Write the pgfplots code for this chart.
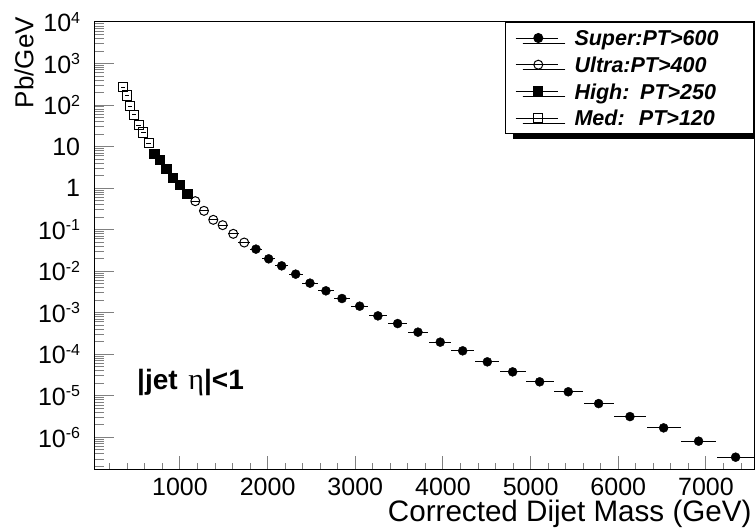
\documentclass[border=0pt]{standalone}
\usepackage{fontspec}
\setmainfont{Liberation Sans}
\newfontfamily\grk{Liberation Serif}
\usepackage{pgfplots}
\pgfplotsset{compat=1.18}
\usetikzlibrary{shadows}
\newcommand\tp[1]{10\raisebox{8.5pt}{\fontsize{16}{16}\selectfont #1}}

\pgfplotstableread{
x y ex
1867 0.0340 72
2012 0.01985 74
2160 0.01346 78
2320 0.00850 80
2483 0.00516 86
2665 0.00337 91
2848 0.00220 95
3050 0.00144 100
3258 8.41e-4 103
3483 5.49e-4 110
3715 3.41e-4 116
3969 1.96e-4 124
4225 1.21e-4 131
4506 6.57e-5 138
4795 3.77e-5 147
5103 2.17e-5 158
5429 1.25e-5 166
5776 6.50e-6 172
6133 3.16e-6 183
6517 1.69e-6 194
6916 8.09e-7 204
7338 3.33e-7 210
}\super

\pgfplotstableread{
x y ex
1175 0.486 48
1274 0.284 51
1380 0.1725 53
1487 0.1285 57
1608 0.0794 61
1733 0.049 66
}\ultra

\pgfplotstableread{
x y ex
707 6.8 32
772 4.8 35
844 2.92 36
917 1.77 38
997 1.2 42
1083 0.741 44
}\high

\pgfplotstableread{
x y ex
346 270 23
392 170 22
433 94 23
479 58 25
529 33 26
581 21.8 28
643 12.1 30
}\med

\begin{document}
\begin{tikzpicture}[x=1pt,y=1pt]
\useasboundingbox (0,0) rectangle (755,528);
\begin{axis}[
  at={(94.3pt,58.7pt)}, anchor=south west,
  scale only axis, width=659.7pt, height=447.3pt,
  ymode=log, xmin=23, xmax=7548, ymin=1.7e-7, ymax=1e4,
  axis line style={line width=1pt},
  tick align=inside, xtick pos=left, ytick pos=left,
  xtick={1000,2000,3000,4000,5000,6000,7000},
  xticklabels={1000,2000,3000,4000,5000,6000,7000},
  minor xtick={200,400,...,7400},
  ytick={1e-6,1e-5,1e-4,1e-3,1e-2,1e-1,1,10,100,1000,10000},
  yticklabels={\tp{-6},\tp{-5},\tp{-4},\tp{-3},\tp{-2},\tp{-1},1,10,\tp{2},\tp{3},\tp{4}},
  minor ytick={2e-7,3e-7,4e-7,5e-7,6e-7,7e-7,8e-7,9e-7,
    2e-6,3e-6,4e-6,5e-6,6e-6,7e-6,8e-6,9e-6,
    2e-5,3e-5,4e-5,5e-5,6e-5,7e-5,8e-5,9e-5,
    2e-4,3e-4,4e-4,5e-4,6e-4,7e-4,8e-4,9e-4,
    2e-3,3e-3,4e-3,5e-3,6e-3,7e-3,8e-3,9e-3,
    2e-2,3e-2,4e-2,5e-2,6e-2,7e-2,8e-2,9e-2,
    0.2,0.3,0.4,0.5,0.6,0.7,0.8,0.9,
    2,3,4,5,6,7,8,9,
    20,30,40,50,60,70,80,90,
    200,300,400,500,600,700,800,900,
    2000,3000,4000,5000,6000,7000,8000,9000},
  xtick style={line width=1pt, /pgfplots/major tick length=13pt, /pgfplots/minor tick length=6.5pt},
  ytick style={line width=1pt, /pgfplots/major tick length=20pt, /pgfplots/minor tick length=10pt},
  xticklabel style={font=\fontsize{25}{25}\selectfont, anchor=north, inner sep=0pt, yshift=-9pt},
  yticklabel style={font=\fontsize{25}{25}\selectfont, anchor=east, inner sep=0pt, xshift=-14pt},
  xlabel={Corrected Dijet Mass (GeV)}, ylabel={Pb/GeV},
  every axis x label/.style={at={(axis description cs:0.9965,-0.1167)}, anchor=base east, font=\fontsize{29.6}{29.6}\selectfont, inner sep=0pt},
  every axis y label/.style={at={(axis description cs:-0.0925,1.0112)}, anchor=base east, rotate=90, font=\fontsize{26}{26}\selectfont, inner sep=0pt},
  legend image code/.code={\draw[black,line width=1pt] (9.4pt,0pt) -- (52pt,0pt); \draw[#1] plot coordinates {(32pt,0pt)}; \path (0pt,0pt) (67.7pt,0pt);},
  legend cell align=left,
  legend style={at={(rel axis cs:1,1)}, anchor=north east, draw=black, line width=1pt, fill=white,
    inner xsep=0pt, inner ysep=2.15pt,
    font=\fontsize{21.5}{21.5}\selectfont\bfseries\itshape,
    drop shadow={shadow xshift=7pt, shadow yshift=-5pt, fill=black, opacity=1},
    column sep=0pt, row sep=0pt,
    nodes={inner sep=0pt, text height=21.05pt, text depth=5.65pt},
    /tikz/every even column/.append style={text width=179pt}},
  error bars/error bar style={line width=1pt, black},
]
\addplot[only marks, mark=*, mark size=4.5pt, black,
  error bars/.cd, x dir=both, x explicit, error mark=none]
  table[x=x, y=y, x error=ex] {\super};
\addlegendentry{Super:PT>600}
\addplot[only marks, mark=o, mark size=4.5pt, black, mark options={line width=1pt},
  error bars/.cd, x dir=both, x explicit, error mark=none]
  table[x=x, y=y, x error=ex] {\ultra};
\addlegendentry{Ultra:PT>400}
\addplot[only marks, mark=square*, mark size=4.6pt, black,
  error bars/.cd, x dir=both, x explicit, error mark=none]
  table[x=x, y=y, x error=ex] {\high};
\addlegendentry{High: PT>250}
\addplot[only marks, mark=square, mark size=4.6pt, black, mark options={line width=1pt},
  error bars/.cd, x dir=both, x explicit, error mark=none]
  table[x=x, y=y, x error=ex] {\med};
\addlegendentry{Med:\ \ PT>120}
\node[anchor=base west, font=\fontsize{28}{28}\selectfont\bfseries, inner sep=0pt]
  at (axis description cs:0.0647,0.1773) {|jet\hspace{3pt} {\grk\mdseries\fontsize{30}{30}\selectfont η}|<1};
\end{axis}
\end{tikzpicture}
\end{document}
